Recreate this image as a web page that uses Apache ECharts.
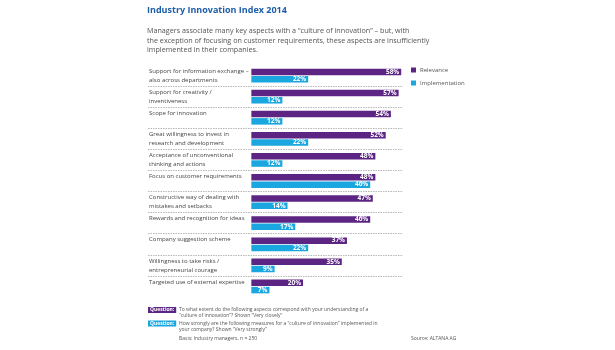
<!DOCTYPE html>
<html>
<head>
<meta charset="utf-8">
<script src="https://cdn.jsdelivr.net/npm/echarts@6/dist/echarts.min.js"></script>
<style>
  html, body { margin: 0; padding: 0; background: #fff; }
  #chart { width: 615px; height: 350px; }
</style>
</head>
<body>
<div id="chart"></div>
<script>
// aspects (two lines each, single-line ones get an empty 2nd line so they sit on the top bar)
const categories = [
    'Support for information exchange –\nalso across departments',
    'Support for creativity /\ninventiveness',
    'Scope for innovation\n ',
    'Great willingness to invest in\nresearch and development',
    'Acceptance of unconventional\nthinking and actions',
    'Focus on customer requirements\n ',
    'Constructive way of dealing with\nmistakes and setbacks',
    'Rewards and recognition for ideas\n ',
    'Company suggestion scheme\n ',
    'Willingness to take risks /\nentrepreneurial courage',
    'Targeted use of external expertise\n '
];
const relevance = [58, 57, 54, 52, 48, 48, 47, 46, 37, 35, 20];
const implementation = [22, 12, 12, 22, 12, 46, 14, 17, 22, 9, 7];

const FONT = '"Open Sans", "Noto Sans", sans-serif';
const purple = '#5c2483';
const cyan = '#1aa7e0';

const chart = echarts.init(document.getElementById('chart'));

//标签样式
const barLabel = {
    show: true,
    position: 'insideRight',
    distance: 2,
    formatter: '{c}%',
    color: '#fff',
    fontSize: 6.5,
    fontWeight: 'bold',
    fontFamily: FONT
};

const option = {
    backgroundColor: '#fff',
    animation: false,
    title: [
        {
            text: 'Industry Innovation Index 2014',
            left: 147, top: 6, padding: 0,
            textStyle: { fontSize: 9, fontWeight: 'bold', color: '#1d5ea8', fontFamily: FONT }
        },
        {
            text: 'Managers associate many key aspects with a “culture of innovation” – but, with\n' +
                'the exception of focusing on customer requirements, these aspects are insufficiently\n' +
                'implemented in their companies.',
            left: 147, top: 26, padding: 0,
            textStyle: { fontSize: 7.2, lineHeight: 9.7, fontWeight: 'normal', color: '#555', fontFamily: FONT }
        },
        {
            text: 'Question:',
            left: 148, top: 307, padding: [0.5, 2],
            backgroundColor: purple,
            textStyle: { fontSize: 5, fontWeight: 'bold', color: '#fff', fontFamily: FONT }
        },
        {
            text: 'To what extent do the following aspects correspond with your understanding of a\n' +
                '“culture of innovation”? Shown “Very closely”',
            left: 179, top: 307, padding: 0,
            textStyle: { fontSize: 5, lineHeight: 6, fontWeight: 'normal', color: '#555', fontFamily: FONT }
        },
        {
            text: 'Question:',
            left: 148, top: 320.5, padding: [0.5, 2],
            backgroundColor: cyan,
            textStyle: { fontSize: 5, fontWeight: 'bold', color: '#fff', fontFamily: FONT }
        },
        {
            text: 'How strongly are the following measures for a “culture of innovation” implemented in\n' +
                'your company? Shown “Very strongly”',
            left: 179, top: 320.5, padding: 0,
            textStyle: { fontSize: 5, lineHeight: 6, fontWeight: 'normal', color: '#555', fontFamily: FONT }
        },
        {
            text: 'Basis: Industry managers, n = 250',
            left: 179, top: 336.5, padding: 0,
            textStyle: { fontSize: 5, fontWeight: 'normal', color: '#555', fontFamily: FONT }
        },
        {
            text: 'Source: ALTANA AG',
            left: 411, top: 336.5, padding: 0,
            textStyle: { fontSize: 5, fontWeight: 'normal', color: '#555', fontFamily: FONT }
        }
    ],
    legend: {
        orient: 'vertical',
        left: 411, top: 67,
        padding: 0,
        itemWidth: 5, itemHeight: 5, itemGap: 7,
        icon: 'rect',
        textStyle: { fontSize: 6, color: '#555', fontFamily: FONT, padding: [0, 0, 0, -1] },
        data: ['Relevance', 'Implementation']
    },
    grid: { left: 148, top: 65, width: 254.5, height: 232 },
    xAxis: {
        type: 'value',
        min: -40, max: 58.5,
        show: false
    },
    yAxis: {
        type: 'category',
        inverse: true,
        data: categories,
        axisLine: { show: false },
        axisTick: { show: false },
        axisLabel: {
            inside: true,
            interval: 0,
            margin: 1,
            align: 'left',
            fontSize: 6,
            lineHeight: 9,
            color: '#444',
            fontFamily: FONT
        },
        splitLine: {
            show: true,
            interval: 0,
            showMinLine: false,
            showMaxLine: false,
            lineStyle: { color: '#999', width: 0.7, type: [1.5, 1] }
        }
    },
    series: [
        {
            name: 'Relevance', type: 'bar', data: relevance,
            barWidth: 6.5, barGap: '12%',
            itemStyle: { color: purple },
            label: barLabel
        },
        {
            name: 'Implementation', type: 'bar', data: implementation,
            barWidth: 6.5,
            itemStyle: { color: cyan },
            label: barLabel
        }
    ]
};

chart.setOption(option);
</script>
</body>
</html>
